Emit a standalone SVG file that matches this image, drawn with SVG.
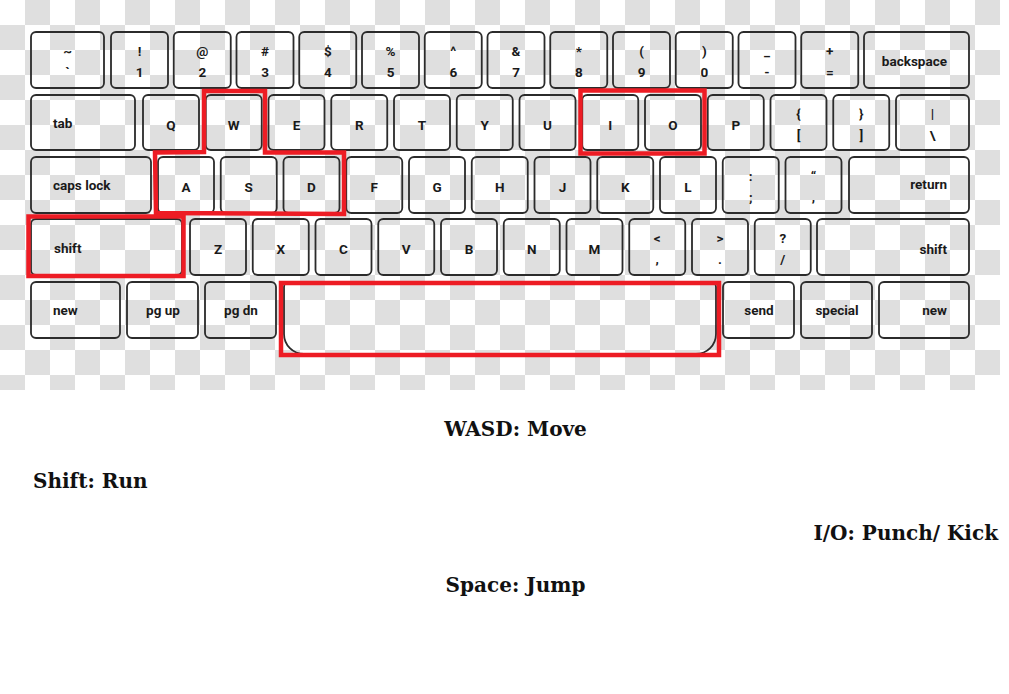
<svg xmlns="http://www.w3.org/2000/svg" width="1009" height="694" viewBox="0 0 1009 694">
<defs>
<pattern id="checker" x="0" y="0" width="50" height="50" patternUnits="userSpaceOnUse">
<rect x="0" y="0" width="50" height="50" fill="#ffffff"/>
<rect x="25" y="0" width="25" height="25" fill="#dfdfdf"/>
<rect x="0" y="25" width="25" height="25" fill="#dfdfdf"/>
</pattern>
</defs>
<style>
.k{fill:none;stroke:#2b2b2b;stroke-width:1.8}
.t{font-family:Roboto,"Liberation Sans",sans-serif;font-weight:bold;font-size:13.5px;fill:#1a1a1a;text-anchor:middle}
.s{text-anchor:start}
.e{text-anchor:end}
.hl{fill:none;stroke:#ed1c24;stroke-width:4.5;stroke-linejoin:miter}
.cap{font-family:"DejaVu Serif","Liberation Serif",serif;font-weight:bold;font-size:20px;fill:#111111}
</style>
<rect x="0" y="0" width="1009" height="694" fill="#ffffff"/>
<rect x="0" y="0" width="1000" height="390" fill="url(#checker)"/>

<g id="row1">
<g id="key-tilde"><rect class="k" x="31" y="32" width="73" height="56" rx="5"/><text class="t" x="67.5" y="56">~</text><text class="t" x="67.5" y="77">`</text></g>
<g id="key-1"><rect class="k" x="111" y="32" width="57" height="56" rx="5"/><text class="t" x="139.5" y="56">!</text><text class="t" x="139.5" y="77">1</text></g>
<g id="key-2"><rect class="k" x="173.75" y="32" width="57" height="56" rx="5"/><text class="t" x="202.25" y="56">@</text><text class="t" x="202.25" y="77">2</text></g>
<g id="key-3"><rect class="k" x="236.5" y="32" width="57" height="56" rx="5"/><text class="t" x="265" y="56">#</text><text class="t" x="265" y="77">3</text></g>
<g id="key-4"><rect class="k" x="299.25" y="32" width="57" height="56" rx="5"/><text class="t" x="327.75" y="56">$</text><text class="t" x="327.75" y="77">4</text></g>
<g id="key-5"><rect class="k" x="362" y="32" width="57" height="56" rx="5"/><text class="t" x="390.5" y="56">%</text><text class="t" x="390.5" y="77">5</text></g>
<g id="key-6"><rect class="k" x="424.75" y="32" width="57" height="56" rx="5"/><text class="t" x="453.25" y="56">^</text><text class="t" x="453.25" y="77">6</text></g>
<g id="key-7"><rect class="k" x="487.5" y="32" width="57" height="56" rx="5"/><text class="t" x="516" y="56">&amp;</text><text class="t" x="516" y="77">7</text></g>
<g id="key-8"><rect class="k" x="550.25" y="32" width="57" height="56" rx="5"/><text class="t" x="578.75" y="56">*</text><text class="t" x="578.75" y="77">8</text></g>
<g id="key-9"><rect class="k" x="613" y="32" width="57" height="56" rx="5"/><text class="t" x="641.5" y="56">(</text><text class="t" x="641.5" y="77">9</text></g>
<g id="key-0"><rect class="k" x="675.75" y="32" width="57" height="56" rx="5"/><text class="t" x="704.25" y="56">)</text><text class="t" x="704.25" y="77">0</text></g>
<g id="key-minus"><rect class="k" x="738.5" y="32" width="57" height="56" rx="5"/><text class="t" x="767" y="56">_</text><text class="t" x="767" y="77">-</text></g>
<g id="key-equal"><rect class="k" x="801.25" y="32" width="57" height="56" rx="5"/><text class="t" x="829.75" y="56">+</text><text class="t" x="829.75" y="77">=</text></g>
<g id="key-backspace"><rect class="k" x="864" y="32" width="105" height="56" rx="5"/><text class="t e" x="947" y="66">backspace</text></g>
</g>

<g id="row2">
<g id="key-tab"><rect class="k" x="31" y="95" width="104" height="55" rx="5"/><text class="t s" x="53" y="128">tab</text></g>
<g id="key-q"><rect class="k" x="143" y="95" width="56" height="55" rx="5"/><text class="t" x="171" y="130">Q</text></g>
<g id="key-w"><rect class="k" x="205.75" y="95" width="56" height="55" rx="5"/><text class="t" x="233.75" y="130">W</text></g>
<g id="key-e"><rect class="k" x="268.5" y="95" width="56" height="55" rx="5"/><text class="t" x="296.5" y="130">E</text></g>
<g id="key-r"><rect class="k" x="331.25" y="95" width="56" height="55" rx="5"/><text class="t" x="359.25" y="130">R</text></g>
<g id="key-t"><rect class="k" x="394" y="95" width="56" height="55" rx="5"/><text class="t" x="422" y="130">T</text></g>
<g id="key-y"><rect class="k" x="456.75" y="95" width="56" height="55" rx="5"/><text class="t" x="484.75" y="130">Y</text></g>
<g id="key-u"><rect class="k" x="519.5" y="95" width="56" height="55" rx="5"/><text class="t" x="547.5" y="130">U</text></g>
<g id="key-i"><rect class="k" x="582.25" y="95" width="56" height="55" rx="5"/><text class="t" x="610.25" y="130">I</text></g>
<g id="key-o"><rect class="k" x="645" y="95" width="56" height="55" rx="5"/><text class="t" x="673" y="130">O</text></g>
<g id="key-p"><rect class="k" x="707.75" y="95" width="56" height="55" rx="5"/><text class="t" x="735.75" y="130">P</text></g>
<g id="key-lbracket"><rect class="k" x="770.5" y="95" width="56" height="55" rx="5"/><text class="t" x="798.5" y="118">{</text><text class="t" x="798.5" y="140">[</text></g>
<g id="key-rbracket"><rect class="k" x="833.25" y="95" width="56" height="55" rx="5"/><text class="t" x="861.25" y="118">}</text><text class="t" x="861.25" y="140">]</text></g>
<g id="key-backslash"><rect class="k" x="896" y="95" width="73" height="55" rx="5"/><text class="t" x="932.5" y="118">|</text><text class="t" x="932.5" y="140">\</text></g>
</g>

<g id="row3">
<g id="key-capslock"><rect class="k" x="31" y="157" width="120" height="56" rx="5"/><text class="t s" x="53" y="190">caps lock</text></g>
<g id="key-a"><rect class="k" x="158" y="157" width="56" height="56" rx="5"/><text class="t" x="186" y="192">A</text></g>
<g id="key-s"><rect class="k" x="220.75" y="157" width="56" height="56" rx="5"/><text class="t" x="248.75" y="192">S</text></g>
<g id="key-d"><rect class="k" x="283.5" y="157" width="56" height="56" rx="5"/><text class="t" x="311.5" y="192">D</text></g>
<g id="key-f"><rect class="k" x="346.25" y="157" width="56" height="56" rx="5"/><text class="t" x="374.25" y="192">F</text></g>
<g id="key-g"><rect class="k" x="409" y="157" width="56" height="56" rx="5"/><text class="t" x="437" y="192">G</text></g>
<g id="key-h"><rect class="k" x="471.75" y="157" width="56" height="56" rx="5"/><text class="t" x="499.75" y="192">H</text></g>
<g id="key-j"><rect class="k" x="534.5" y="157" width="56" height="56" rx="5"/><text class="t" x="562.5" y="192">J</text></g>
<g id="key-k"><rect class="k" x="597.25" y="157" width="56" height="56" rx="5"/><text class="t" x="625.25" y="192">K</text></g>
<g id="key-l"><rect class="k" x="660" y="157" width="56" height="56" rx="5"/><text class="t" x="688" y="192">L</text></g>
<g id="key-semicolon"><rect class="k" x="722.75" y="157" width="56" height="56" rx="5"/><text class="t" x="750.75" y="181">:</text><text class="t" x="750.75" y="202">;</text></g>
<g id="key-quote"><rect class="k" x="785.5" y="157" width="56" height="56" rx="5"/><text class="t" x="813.5" y="181">“</text><text class="t" x="813.5" y="202">,</text></g>
<g id="key-return"><rect class="k" x="849" y="157" width="120" height="56" rx="5"/><text class="t e" x="947" y="189">return</text></g>
</g>

<g id="row4">
<g id="key-lshift"><rect class="k" x="31" y="219" width="151" height="56" rx="5"/><text class="t s" x="54" y="253">shift</text></g>
<g id="key-z"><rect class="k" x="190" y="219" width="56" height="56" rx="5"/><text class="t" x="218" y="254">Z</text></g>
<g id="key-x"><rect class="k" x="252.75" y="219" width="56" height="56" rx="5"/><text class="t" x="280.75" y="254">X</text></g>
<g id="key-c"><rect class="k" x="315.5" y="219" width="56" height="56" rx="5"/><text class="t" x="343.5" y="254">C</text></g>
<g id="key-v"><rect class="k" x="378.25" y="219" width="56" height="56" rx="5"/><text class="t" x="406.25" y="254">V</text></g>
<g id="key-b"><rect class="k" x="441" y="219" width="56" height="56" rx="5"/><text class="t" x="469" y="254">B</text></g>
<g id="key-n"><rect class="k" x="503.75" y="219" width="56" height="56" rx="5"/><text class="t" x="531.75" y="254">N</text></g>
<g id="key-m"><rect class="k" x="566.5" y="219" width="56" height="56" rx="5"/><text class="t" x="594.5" y="254">M</text></g>
<g id="key-comma"><rect class="k" x="629.25" y="219" width="56" height="56" rx="5"/><text class="t" x="657.25" y="243">&lt;</text><text class="t" x="657.25" y="264">,</text></g>
<g id="key-period"><rect class="k" x="692" y="219" width="56" height="56" rx="5"/><text class="t" x="720" y="243">&gt;</text><text class="t" x="720" y="264">.</text></g>
<g id="key-slash"><rect class="k" x="754.75" y="219" width="56" height="56" rx="5"/><text class="t" x="782.75" y="243">?</text><text class="t" x="782.75" y="264">/</text></g>
<g id="key-rshift"><rect class="k" x="817" y="219" width="152" height="56" rx="5"/><text class="t e" x="947" y="254">shift</text></g>
</g>

<g id="row5">
<g id="key-new-left"><rect class="k" x="31" y="282" width="89" height="56" rx="5"/><text class="t s" x="53" y="315">new</text></g>
<g id="key-pgup"><rect class="k" x="127" y="282" width="71" height="56" rx="5"/><text class="t" x="163" y="315">pg up</text></g>
<g id="key-pgdn"><rect class="k" x="205" y="282" width="71" height="56" rx="5"/><text class="t" x="241" y="315">pg dn</text></g>
<g id="key-space"><path class="k" d="M289 282 H711 A5 5 0 0 1 716 287 V334 A20 20 0 0 1 696 354 H304 A20 20 0 0 1 284 334 V287 A5 5 0 0 1 289 282 Z"/></g>
<g id="key-send"><rect class="k" x="723" y="282" width="71" height="56" rx="5"/><text class="t" x="759" y="315">send</text></g>
<g id="key-special"><rect class="k" x="801" y="282" width="71" height="56" rx="5"/><text class="t" x="837" y="315">special</text></g>
<g id="key-new-right"><rect class="k" x="879" y="282" width="90" height="56" rx="5"/><text class="t e" x="947" y="315">new</text></g>
</g>

<g id="highlights">
<path id="hl-wasd" class="hl" d="M155 152.5 L204 152 L204 91 L265 91 L265 152.5 L344 152.5 L344 214 L156 213 Z"/>
<rect id="hl-shift" class="hl" x="28.5" y="216.5" width="155" height="59.5"/>
<rect id="hl-io" class="hl" x="580.5" y="90.5" width="124" height="63"/>
<rect id="hl-space" class="hl" x="281" y="283" width="438" height="72"/>
</g>

<g id="captions">
<text class="cap" x="515.5" y="436" text-anchor="middle">WASD: Move</text>
<text class="cap" x="33" y="488">Shift: Run</text>
<text class="cap" x="998" y="540" text-anchor="end">I/O: Punch/ Kick</text>
<text class="cap" x="515.5" y="592" text-anchor="middle">Space: Jump</text>
</g>
</svg>
